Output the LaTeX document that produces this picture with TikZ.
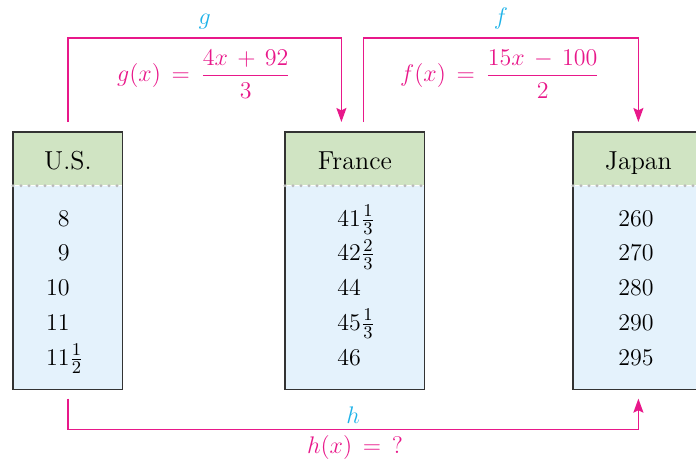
\documentclass[tikz,border=0pt]{standalone}
\usepackage{amsmath}
\usetikzlibrary{arrows.meta,positioning}
\definecolor{linkpink}{RGB}{232,24,138}
\definecolor{labelcyan}{RGB}{30,178,232}
\definecolor{headgreen}{RGB}{208,228,195}
\definecolor{bodyblue}{RGB}{228,242,252}
\definecolor{boxgray}{RGB}{51,51,51}
\definecolor{dotgray}{RGB}{185,185,185}

\begin{document}
\begin{tikzpicture}[x=0.5pt,y=0.5pt,font=\fontsize{13}{15.6}\selectfont,
 head/.style={fill=headgreen,anchor=north west,inner sep=0pt,minimum width=#1,minimum height=26.5pt,text height=10.5pt,text depth=0pt},
 body/.style={fill=bodyblue,inner sep=0pt,minimum width=#1,minimum height=101.5pt},
 frame/.style={draw=boxgray,line width=0.6pt},
 dotrule/.style={draw=dotgray,line width=1.6pt,line cap=round,dash pattern=on 0pt off 4pt},
 val/.style={inner sep=0pt},
 link/.style={draw=linkpink,line width=0.8pt},
 arr/.style={link,-{Stealth[length=7pt,width=5pt,inset=1.2pt]}},
 fnlabel/.style={text=labelcyan,inner sep=1pt},
 rule/.style={text=linkpink,inner sep=1pt}]
\useasboundingbox (0,0) rectangle (696,-461);
\clip (0,0) rectangle (696,-461);
% the three tables
\node[head=54.5pt] (usHead) at (13,-132) {U.S.};
\node[body=54.5pt,below=0pt of usHead] (usBody) {};
\node[head=69.5pt] (frHead) at (285,-132) {France};
\node[body=69.5pt,below=0pt of frHead] (frBody) {};
\node[head=65pt] (jpHead) at (573,-132) {Japan};
\node[body=65pt,below=0pt of jpHead] (jpBody) {};
\foreach \c in {us,fr,jp} {
  \draw[frame] (\c Head.north west) rectangle (\c Body.south east);
  \draw[dotrule] (\c Body.north west) -- (\c Body.north east);
}
\foreach \v [count=\i] in {8,9,10,11,11\rlap{$\frac{1}{2}$}}
  \node[val,anchor=base east] (us-\i) at (70,{-226-34.8*(\i-1)}) {$\v$};
\foreach \v [count=\i] in {41\frac{1}{3},42\frac{2}{3},44,45\frac{1}{3},46}
  \node[val,anchor=base west] (fr-\i) at (337,{-226-34.8*(\i-1)}) {$\v$};
\foreach \v [count=\i] in {260,270,280,290,295}
  \node[val,anchor=base] (jp-\i) at (636,{-226-34.8*(\i-1)}) {$\v$};
% the three maps
\draw[arr] ([yshift=5pt]usHead.north) -- ++(0,84)
  -| node[fnlabel,pos=0.25,above=3pt] (gName) {$g$} ([xshift=-6.75pt,yshift=5pt]frHead.north);
\draw[arr] ([xshift=4.25pt,yshift=5pt]frHead.north) -- ++(0,84)
  -| node[fnlabel,pos=0.25,above=3pt] (fName) {$f$} ([yshift=5pt]jpHead.north);
\draw[arr] ([yshift=-4.5pt]usBody.south) -- ++(0,-31)
  -| node[fnlabel,pos=0.25,above=1.5pt] (hName) {$h$} ([yshift=-4.5pt]jpBody.south);
\node[rule] (gRule) at (204,-74) {$g(x) \,=\, \dfrac{4x \,+\, 92}{3}$};
\node[rule] (fRule) at (500,-74) {$f(x) \,=\, \dfrac{15x \,-\, 100}{2}$};
\node[rule] (hRule) at (355,-447) {$h(x) \,=\, {?}$};
\end{tikzpicture}
\end{document}
